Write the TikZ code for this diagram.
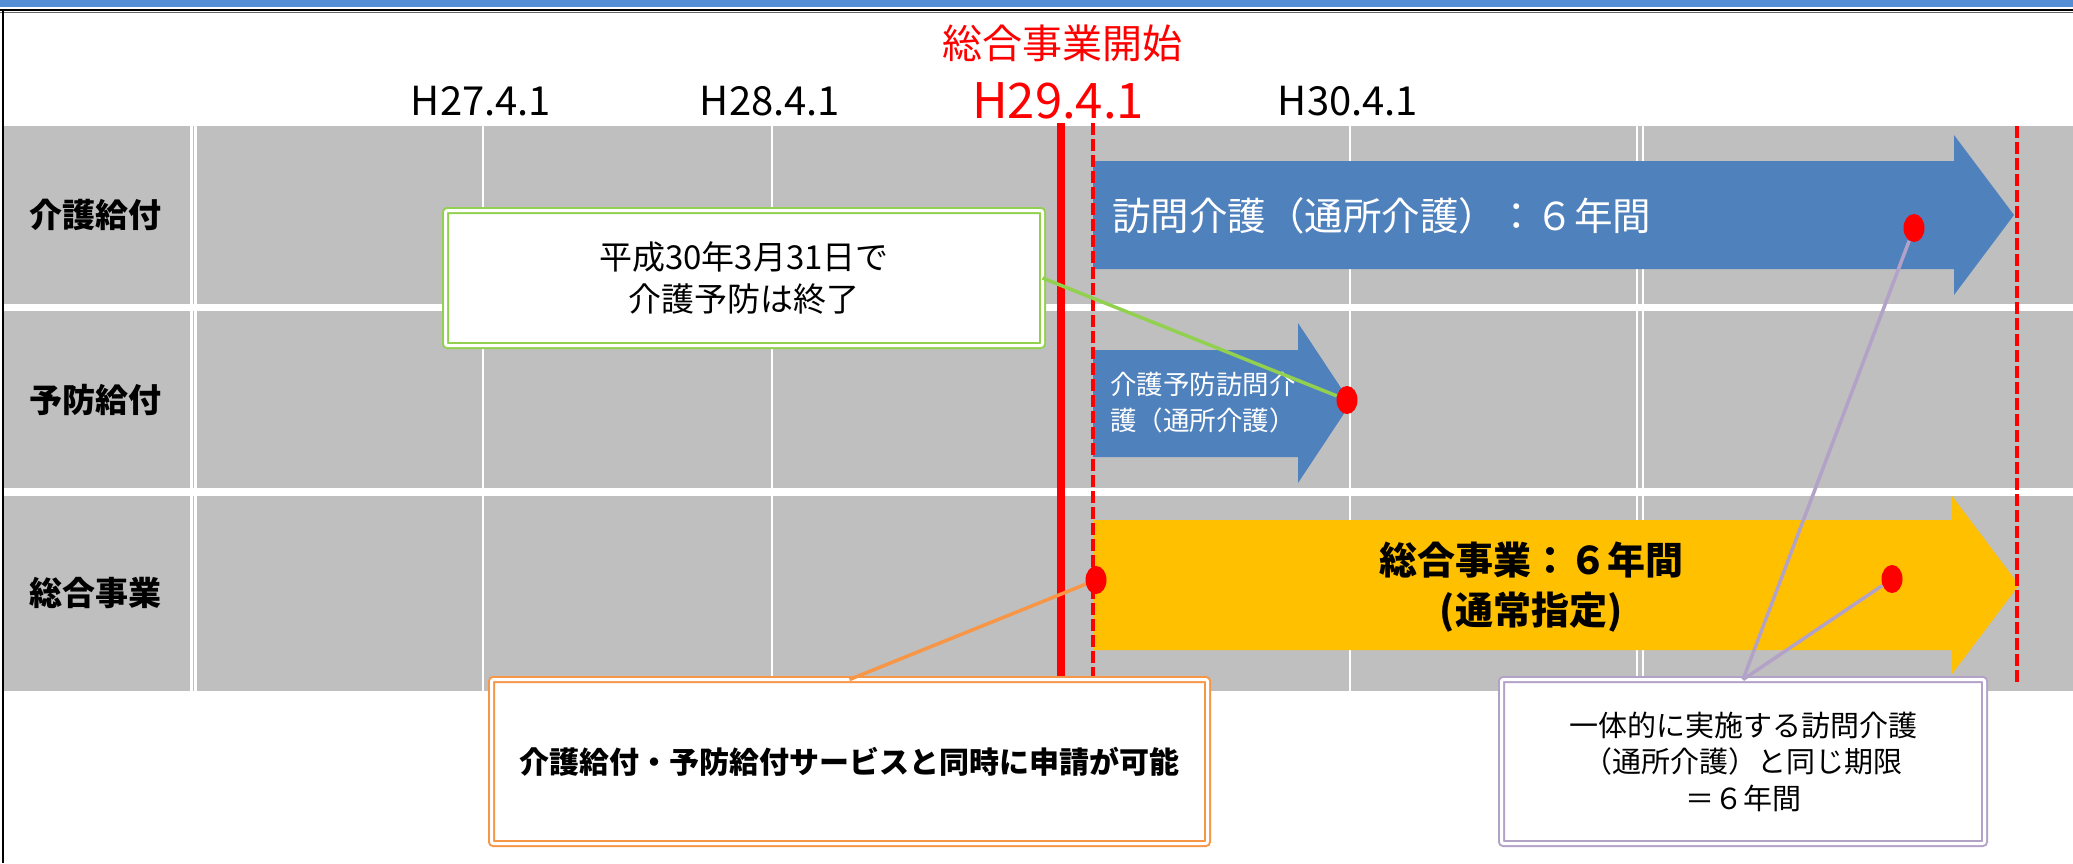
\documentclass[tikz,border=0pt]{standalone}
\usepackage{fontspec}
\setmainfont{Noto Sans CJK JP}
\usetikzlibrary{shapes.geometric}
\definecolor{cellgray}{HTML}{BFBFBF}
\definecolor{arrowblue}{HTML}{4F81BD}
\definecolor{arrowyellow}{HTML}{FFC000}
\definecolor{topblue}{HTML}{558ED5}
\definecolor{cgreen}{HTML}{92D050}
\definecolor{corange}{HTML}{F79646}
\definecolor{cpurple}{HTML}{B3A2C7}
\newcommand{\myfs}[2]{\fontsize{#1pt}{#2pt}\selectfont}
\begin{document}
\begin{tikzpicture}[x=1pt,y=-1pt,
  rowlabel/.style={font=\myfs{33}{40}\bfseries, text=black, inner sep=0pt},
  datelabel/.style={font=\myfs{40}{48}, text=black, inner sep=0pt},
  dot/.style={ellipse, fill=red, minimum width=21pt, minimum height=28pt, inner sep=0pt},
  callout/.style={draw=#1, double=white, double distance=3pt, line width=2pt, fill=white,
    rounded corners=2pt, inner sep=0pt, outer sep=0pt, align=center, text=black},
  conn/.style={draw=#1, line width=3.5pt},
  reddash/.style={draw=red, line width=4pt, dash pattern=on 12pt off 4pt},
]
\useasboundingbox (0,0) rectangle (2073,863);
% frame
\fill[topblue] (0,0) rectangle (2073,7);
\draw[black, line width=1.5pt] (0,10) -- (2073,10);
\draw[black!60, line width=0.8pt] (0,12.2) -- (2073,12.2);
\draw[black, line width=2.6pt] (2.8,9.5) -- (2.8,863);
% grid
\fill[cellgray] (4,126) rectangle (2073,304);
\fill[cellgray] (4,311) rectangle (2073,488);
\fill[cellgray] (4,496) rectangle (2073,691);
\foreach \x/\w in {191.3/2.7, 195.6/2.7, 483/2, 772/2, 1061/2, 1350/2, 1637/2, 1643/2}
  \draw[white, line width=\w pt] (\x,126) -- (\x,691);
% row labels
\node[rowlabel] (r1) at (95,215) {介護給付};
\node[rowlabel] (r2) at (95,400) {予防給付};
\node[rowlabel] (r3) at (95,593) {総合事業};
% title and dates
\node[font=\myfs{40}{48}, text=red, inner sep=0pt] (title) at (1062,43) {総合事業開始};
\node[datelabel] (h27) at (481,101) {H27.4.1};
\node[datelabel] (h28) at (770,101) {H28.4.1};
\node[datelabel, font=\myfs{49}{56}, text=red] (h29) at (1058,101) {H29.4.1};
\node[datelabel] (h30) at (1348,101) {H30.4.1};
% arrows
\fill[arrowblue] (1093,161) -- (1954,161) -- (1954,135) -- (2014,215) -- (1954,295) -- (1954,269) -- (1093,269) -- cycle;
\fill[arrowblue] (1093,350) -- (1298,350) -- (1298,323) -- (1351,403) -- (1298,483) -- (1298,457) -- (1093,457) -- cycle;
\fill[arrowyellow] (1093,520) -- (1952,520) -- (1952,496) -- (2019,585) -- (1952,674) -- (1952,650) -- (1093,650) -- cycle;
% red lines
\draw[red, line width=7.5pt] (1061,123) -- (1061,678);
\draw[reddash] (1093,123) -- (1093,680);
\draw[reddash] (2017,126) -- (2017,684);
% arrow texts
\node[anchor=west, inner sep=0pt, text=white, font=\myfs{38.5}{48}] (t1) at (1112,216) {訪問介護（通所介護）：６年間};
\node[anchor=west, inner sep=0pt, text=white, font=\myfs{26.5}{36}, align=left] (t2) at (1110,403) {介護予防訪問介\\護（通所介護）};
\node[inner sep=0pt, text=black, font=\myfs{38}{50}\bfseries, align=center] (t3) at (1531,587) {総合事業：６年間\\(通常指定)};
% dots
\node[dot] (d1) at (1914,228) {};
\node[dot] (d2) at (1347,400) {};
\node[dot] (d3) at (1096,580) {};
\node[dot] (d4) at (1892,579) {};
% callouts
\node[callout=cgreen, minimum width=597pt, minimum height=135pt, font=\myfs{33}{42}] (gbox) at (744,278) {平成30年3月31日で\\介護予防は終了};
\node[callout=corange, minimum width=716pt, minimum height=164pt, font=\myfs{30}{36}\bfseries] (obox) at (849.5,761.5) {介護給付・予防給付サービスと同時に申請が可能};
\node[callout=cpurple, minimum width=483pt, minimum height=164pt, font=\myfs{29}{36.5}] (pbox) at (1743,761.5) {一体的に実施する訪問介護\\（通所介護）と同じ期限\\＝６年間};
% connectors
\draw[conn=cgreen] (gbox.east) -- (d2);
\draw[conn=corange] (obox.north) -- (d3);
\draw[conn=cpurple] (pbox.north) -- (d1);
\draw[conn=cpurple] (pbox.north) -- (d4);
\end{tikzpicture}
\end{document}
